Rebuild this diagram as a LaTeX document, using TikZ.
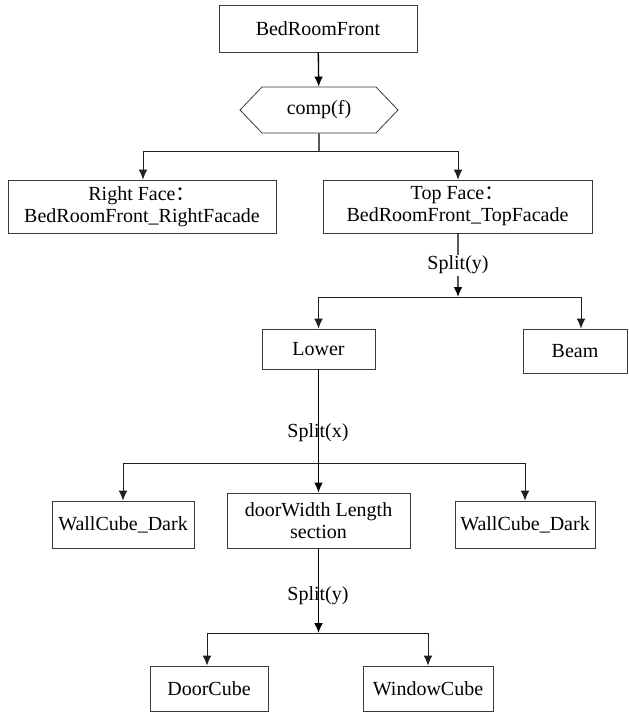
\documentclass[tikz,border=0pt]{standalone}
\usepackage{fontspec}
\setmainfont{Liberation Serif}
\newfontfamily\cjk{Noto Sans CJK SC}
\usepackage{tikz}
\usetikzlibrary{arrows.meta,shapes.symbols}
\definecolor{BoxC}{HTML}{3A3A3A}
\definecolor{WireC}{HTML}{202020}

\begin{document}
\begin{tikzpicture}[x=0.75pt,y=-0.75pt,
  box/.style={draw=BoxC,line width=.6pt,inner sep=0pt,align=center,
    font=\fontsize{15}{16.5}\selectfont},
  hexbox/.style={box,signal,signal to=west and east,signal pointer angle=92.5},
  trunk/.style={draw=black,line width=1pt,-{Latex[length=7.5pt,width=6.5pt]}},
  branch/.style={draw=WireC,line width=.6pt,-{Latex[length=7.5pt,width=6.5pt]}},
  opname/.style={font=\fontsize{15}{16.5}\selectfont,inner sep=1pt}]

\useasboundingbox (0,0) rectangle (628,713);

% ---------- root and composition ----------
\node[box,minimum width=148.5pt,minimum height=35.25pt] (root) at (318,28.5) {BedRoomFront};
\node[hexbox,minimum width=118.5pt,minimum height=34.5pt] (comp) at (319,110) {comp(f)};
\draw[trunk] (root) -- (comp);

\node[box,minimum width=201pt,minimum height=39.75pt] (rface) at (142,206.5)
  {Right Face{\cjk ：}\\BedRoomFront\_RightFacade};
\node[box,minimum width=201.75pt,minimum height=39.75pt] (tface) at (457.5,206.5)
  {Top Face{\cjk ：}\\BedRoomFront\_TopFacade};
\coordinate (jcomp) at (319,151);
\draw[line width=1pt] (comp) -- (jcomp);
\draw[branch] (jcomp) -| ([xshift=.75pt]rface.north);
\draw[branch] (jcomp) -| ([xshift=.4pt]tface.north);

% ---------- split of the top facade ----------
\node[box,minimum width=84.75pt,minimum height=30pt] (lower) at (318.5,349) {Lower};
\node[box,minimum width=78pt,minimum height=33pt] (beam) at (575,351) {Beam};
\coordinate (jtop) at (458,297);
\draw[trunk] ([xshift=.4pt]tface.south) -- (jtop)
  node[opname,fill=white,pos=.5] (splittop) {Split(y)};
\draw[branch] (jtop) -| (lower.north);
\draw[branch] (jtop) -| ([xshift=4.5pt]beam.north);

% ---------- split of the lower part ----------
\node[box,minimum width=106.5pt,minimum height=35.25pt] (wallL) at (123,524.5) {WallCube\_Dark};
\node[box,minimum width=137.25pt,minimum height=41.25pt] (door) at (318.5,520.5)
  {doorWidth Length\\section};
\node[box,minimum width=105pt,minimum height=35.25pt] (wallR) at (525,524.5) {WallCube\_Dark};
\coordinate (jlow) at (318.5,463);
\draw[trunk] (lower) -- (door);
\node[opname] (splitx) at (318,433) {Split(x)};
\draw[branch] (jlow) -| (wallL.north);
\draw[branch] (jlow) -| (wallR.north);

% ---------- split of the door section ----------
\node[box,minimum width=88.5pt,minimum height=33.75pt] (doorc) at (209,688.5) {DoorCube};
\node[box,minimum width=97.5pt,minimum height=33.75pt] (windowc) at (428,688.5) {WindowCube};
\coordinate (jdoor) at (318.5,633);
\node[opname] (splitbot) at (318,596) {Split(y)};
\draw[trunk] (door) -- (jdoor);
\draw[branch] (jdoor) -| ([xshift=-1.5pt]doorc.north);
\draw[branch] (jdoor) -| (windowc.north);
\end{tikzpicture}
\end{document}
